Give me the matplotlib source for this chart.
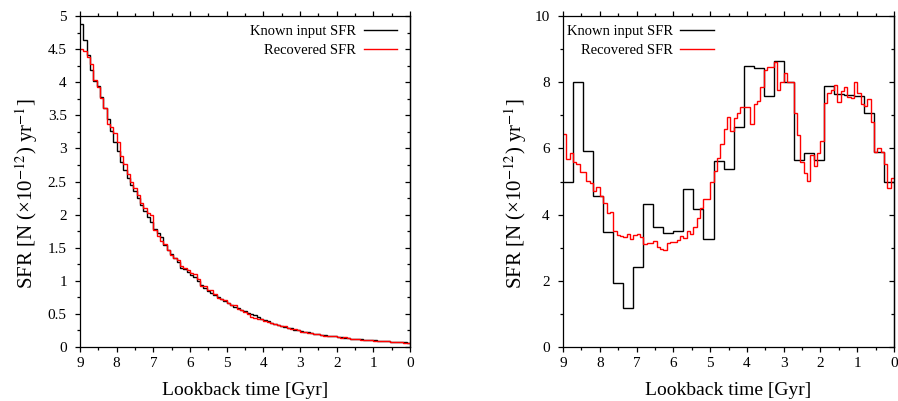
import numpy as np
import matplotlib
matplotlib.use("Agg")
import matplotlib.pyplot as plt
from matplotlib.ticker import MultipleLocator, FormatStrFormatter

plt.rcParams['font.family'] = ['Liberation Serif', 'DejaVu Serif']
plt.rcParams['mathtext.fontset'] = 'stix'

# lookback time range [Gyr], 99 fine bins and 33 coarse bins
t_max = 9.0
t_min = 0.0

# left panel: exponentially declining SFR
known_left = [4.88, 4.64, 4.41, 4.19, 4.02, 3.95, 3.78, 3.61, 3.44, 3.26,
              3.10, 2.96, 2.80, 2.67, 2.55, 2.45, 2.36, 2.25, 2.14, 2.06,
              1.97, 1.89, 1.78, 1.72, 1.66, 1.54, 1.47, 1.40, 1.34, 1.28,
              1.20, 1.18, 1.14, 1.09, 1.06, 0.99, 0.94, 0.89, 0.85, 0.81,
              0.79, 0.76, 0.73, 0.70, 0.67, 0.64, 0.61, 0.59, 0.56, 0.54,
              0.52, 0.50, 0.48, 0.45, 0.43, 0.41, 0.39, 0.37, 0.35, 0.33,
              0.32, 0.30, 0.29, 0.28, 0.26, 0.25, 0.24, 0.23, 0.22, 0.21,
              0.20, 0.19, 0.185, 0.18, 0.17, 0.165, 0.16, 0.15, 0.145, 0.14,
              0.13, 0.125, 0.12, 0.12, 0.115, 0.11, 0.105, 0.10, 0.10, 0.095,
              0.09, 0.09, 0.085, 0.08, 0.08, 0.075, 0.075, 0.07, 0.065]
recovered_left = [4.50, 4.48, 4.39, 4.27, 4.04, 3.93, 3.76, 3.61, 3.37, 3.32,
                  3.24, 3.10, 2.88, 2.77, 2.62, 2.50, 2.40, 2.30, 2.18, 2.10,
                  2.03, 2.00, 1.77, 1.68, 1.60, 1.55, 1.47, 1.39, 1.35, 1.31,
                  1.22, 1.19, 1.16, 1.12, 1.11, 1.03, 0.92, 0.92, 0.86, 0.86,
                  0.80, 0.74, 0.72, 0.71, 0.66, 0.64, 0.63, 0.58, 0.56, 0.53,
                  0.50, 0.45, 0.44, 0.43, 0.42, 0.40, 0.38, 0.37, 0.35, 0.33,
                  0.31, 0.31, 0.28, 0.27, 0.27, 0.25, 0.23, 0.23, 0.21, 0.21,
                  0.19, 0.19, 0.18, 0.17, 0.17, 0.16, 0.16, 0.15, 0.14, 0.15,
                  0.13, 0.12, 0.12, 0.115, 0.11, 0.11, 0.10, 0.10, 0.095, 0.09,
                  0.09, 0.085, 0.085, 0.08, 0.08, 0.075, 0.07, 0.065, 0.06]

# right panel: bursty SFR
known_right = [5.00, 8.00, 5.92, 4.56, 3.48, 1.92, 1.17, 2.43, 4.31, 3.62,
               3.45, 3.51, 4.79, 4.16, 3.26, 5.61, 5.38, 6.65, 8.48, 8.43,
               7.60, 8.65, 8.00, 5.65, 5.85, 5.65, 7.89, 7.66, 7.63, 7.59,
               7.08, 5.89, 4.98]
recovered_right = [6.43, 5.67, 5.85, 5.60, 5.53, 5.28, 5.28, 5.03, 4.97, 4.72,
                   4.84, 4.56, 4.34, 4.06, 4.09, 3.50, 3.38, 3.35, 3.33, 3.43,
                   3.25, 3.38, 3.43, 3.31, 3.11, 3.13, 3.15, 3.20, 3.03, 2.95,
                   2.93, 3.15, 3.18, 3.18, 3.22, 3.36, 3.29, 3.52, 3.43, 3.64,
                   3.91, 4.19, 4.47, 4.47, 4.99, 5.32, 5.72, 6.15, 6.58, 6.96,
                   6.53, 6.91, 7.06, 7.26, 7.26, 7.26, 6.73, 7.33, 7.43, 7.85,
                   8.37, 8.45, 8.45, 8.62, 7.76, 8.02, 8.29, 8.02, 8.00, 7.06,
                   6.40, 5.60, 5.25, 5.02, 5.80, 5.47, 5.87, 6.22, 7.38, 7.69,
                   7.76, 7.92, 7.41, 7.74, 7.86, 7.56, 7.54, 8.02, 7.68, 7.34,
                   7.28, 7.51, 6.81, 5.90, 6.00, 5.90, 5.53, 4.80, 5.10]

ylabel = 'SFR [N (\u00d710$^{-12}$) yr$^{-1}$]'
xlabel = 'Lookback time [Gyr]'


def edges(vals):
    return np.linspace(t_max, t_min, len(vals) + 1)


def style_axes(ax, ymax, ymaj, ymin, ylab_x):
    ax.set_xlim(t_max, t_min)
    ax.set_ylim(0, ymax)
    ax.xaxis.set_major_locator(MultipleLocator(1))
    ax.xaxis.set_minor_locator(MultipleLocator(0.5))
    ax.yaxis.set_major_locator(MultipleLocator(ymaj))
    ax.yaxis.set_minor_locator(MultipleLocator(ymin))
    ax.yaxis.set_major_formatter(FormatStrFormatter('%g'))
    ax.xaxis.set_major_formatter(FormatStrFormatter('%g'))
    ax.tick_params(which='both', direction='out', top=True, right=False,
                   labelsize=11, width=0.9)
    ax.tick_params(which='major', length=3.5)
    ax.tick_params(which='minor', length=2)
    ax.tick_params(axis='x', pad=4)
    ax.tick_params(axis='y', pad=6)
    for s in ax.spines.values():
        s.set_linewidth(0.9)
    # right side ticks point inward
    sec = ax.secondary_yaxis('right')
    sec.yaxis.set_major_locator(MultipleLocator(ymaj))
    sec.yaxis.set_minor_locator(MultipleLocator(ymin))
    sec.tick_params(which='both', direction='in', labelright=False, width=0.9)
    sec.tick_params(which='major', length=3.5)
    sec.tick_params(which='minor', length=2)
    sec.spines['right'].set_linewidth(0.9)
    ax.set_xlabel(xlabel, fontsize=14, labelpad=8)
    ax.set_ylabel(ylabel, fontsize=15)
    ax.yaxis.set_label_coords(ylab_x, 0.462)


fig = plt.figure(figsize=(8.98, 4.01), dpi=100)
ax1 = fig.add_axes([0.0891, 0.1347, 0.3675, 0.825])
ax2 = fig.add_axes([0.627, 0.1347, 0.3686, 0.825])

leg_kw = dict(frameon=False, markerfirst=False, fontsize=10.5,
              handlelength=2.3, handletextpad=0.5, labelspacing=0.35,
              borderpad=0, borderaxespad=0)

ax1.stairs(known_left, edges(known_left), baseline=None, color='black', lw=1.0,
           label='Known input SFR')
ax1.stairs(recovered_left, edges(recovered_left), baseline=None, color='red', lw=1.0,
           label='Recovered SFR')
style_axes(ax1, 5, 0.5, 0.25, -0.12)
ax1.legend(loc='upper right', bbox_to_anchor=(0.961, 0.973), **leg_kw)

ax2.stairs(known_right, edges(known_right), baseline=None, color='black', lw=1.0,
           label='Known input SFR')
ax2.stairs(recovered_right, edges(recovered_right), baseline=None, color='red', lw=1.0,
           label='Recovered SFR')
style_axes(ax2, 10, 2, 1, -0.104)
ax2.legend(loc='upper left', bbox_to_anchor=(0.012, 0.973), **leg_kw)

fig.savefig('out.png', dpi=100)
